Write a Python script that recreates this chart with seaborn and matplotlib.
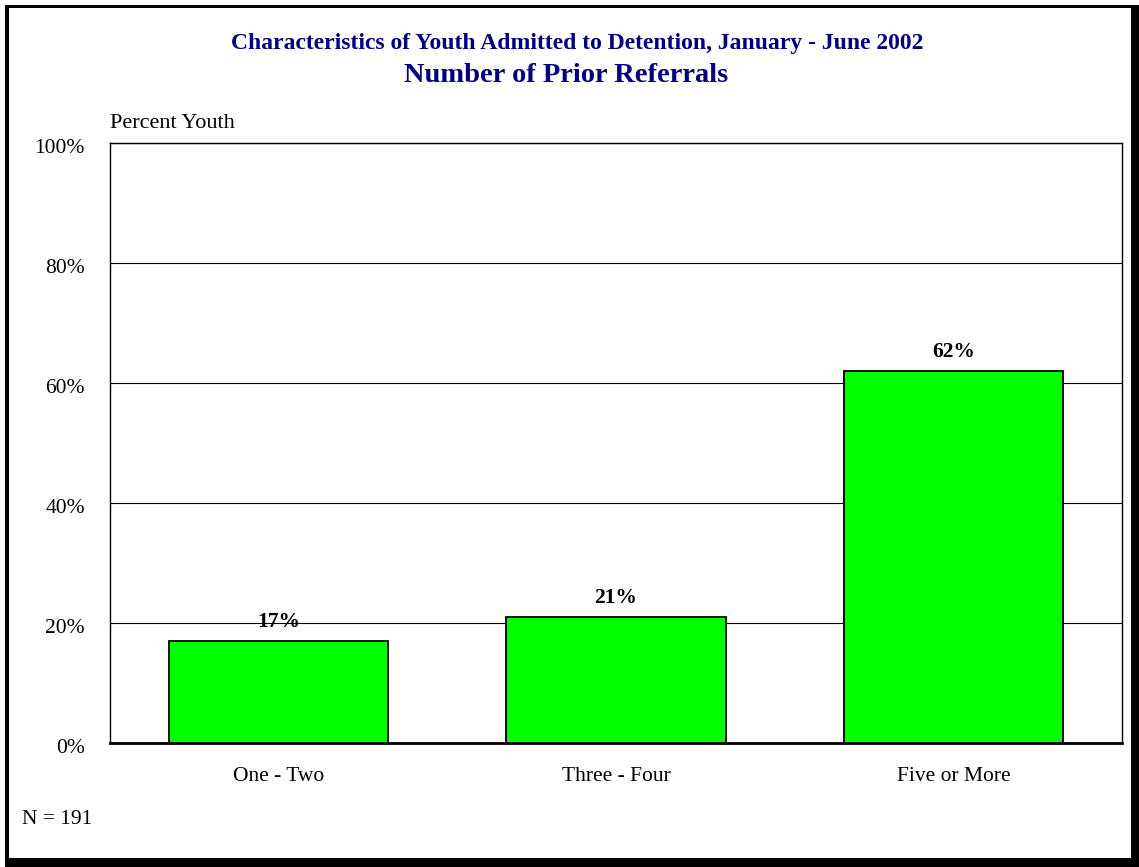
import matplotlib
matplotlib.use("Agg")
import matplotlib.pyplot as plt
import matplotlib.transforms as mtransforms
import seaborn as sns
import pandas as pd
from matplotlib.patches import Rectangle
from matplotlib.ticker import FuncFormatter

categories = ["One - Two", "Three - Four", "Five or More"]
percent_youth = [17, 21, 62]
y_ticks = [0, 20, 40, 60, 80, 100]

title_line1 = "Characteristics of Youth Admitted to Detention, January - June 2002"
title_line2 = "Number of Prior Referrals"
n_note = "N = 191"

sns.set_theme(style="white")
plt.rcParams['font.family'] = ['Liberation Serif', 'DejaVu Serif']

W, H = 1139, 867
fig = plt.figure(figsize=(W / 100, H / 100), dpi=100)
fig.patch.set_facecolor("white")

ax = fig.add_axes([110 / W, 1 - 743 / H, (1122 - 110) / W, (743 - 143) / H])

df = pd.DataFrame({"category": categories, "pct": percent_youth})
sns.barplot(data=df, x="category", y="pct", color="#00FF00", saturation=1,
            width=0.65, edgecolor="black", linewidth=1.3, ax=ax, zorder=3)

ax.set_ylim(0, 100)
ax.set_xlim(-0.5, 2.5)
ax.set_yticks(y_ticks)
ax.yaxis.set_major_formatter(FuncFormatter(lambda v, p: f"{v:.0f}%"))
ax.grid(axis="y", color="black", linewidth=0.8, zorder=0)
ax.set_axisbelow(True)
ax.tick_params(axis="y", length=0, pad=18, labelsize=15.5, labelcolor="black")
ax.tick_params(axis="x", length=0, pad=17, labelsize=15.5, labelcolor="black")
# y labels sit a little below their gridlines in the original
shift = mtransforms.ScaledTranslation(0, -3 / 100, fig.dpi_scale_trans)
for lbl in ax.get_yticklabels():
    lbl.set_transform(lbl.get_transform() + shift)
ax.set_xlabel("")
ax.set_ylabel("")
for side, sp in ax.spines.items():
    sp.set_visible(True)
    sp.set_color("black")
    sp.set_linewidth(1.0)
ax.spines["bottom"].set_linewidth(2.0)

for i, v in enumerate(percent_youth):
    ax.annotate(f"{v}%", (i, v), xytext=(0, 13.5), textcoords="offset points",
                ha="center", va="center", fontsize=15.5, fontweight="bold",
                color="black")

fig.text(577 / W, 1 - 43 / H, title_line1, ha="center", va="center",
         fontsize=17, fontweight="bold", color="#000080")
fig.text(566 / W, 1 - 75 / H, title_line2, ha="center", va="center",
         fontsize=20.5, fontweight="bold", color="#000080")
fig.text(110 / W, 1 - 123 / H, "Percent Youth", ha="left", va="center",
         fontsize=16, color="black")
fig.text(22 / W, 1 - 820 / H, n_note, ha="left", va="center",
         fontsize=15.5, color="black")

# page frame with heavier right/bottom edges
for x0, y0, x1, y1 in [(5, 5, 9, 867), (5, 5, 1139, 8),
                       (1131, 5, 1139, 867), (5, 858, 1139, 867)]:
    fig.add_artist(Rectangle((x0 / W, 1 - y1 / H), (x1 - x0) / W, (y1 - y0) / H,
                             transform=fig.transFigure, facecolor="black",
                             edgecolor="none"))

fig.savefig("out.png", dpi=100)
